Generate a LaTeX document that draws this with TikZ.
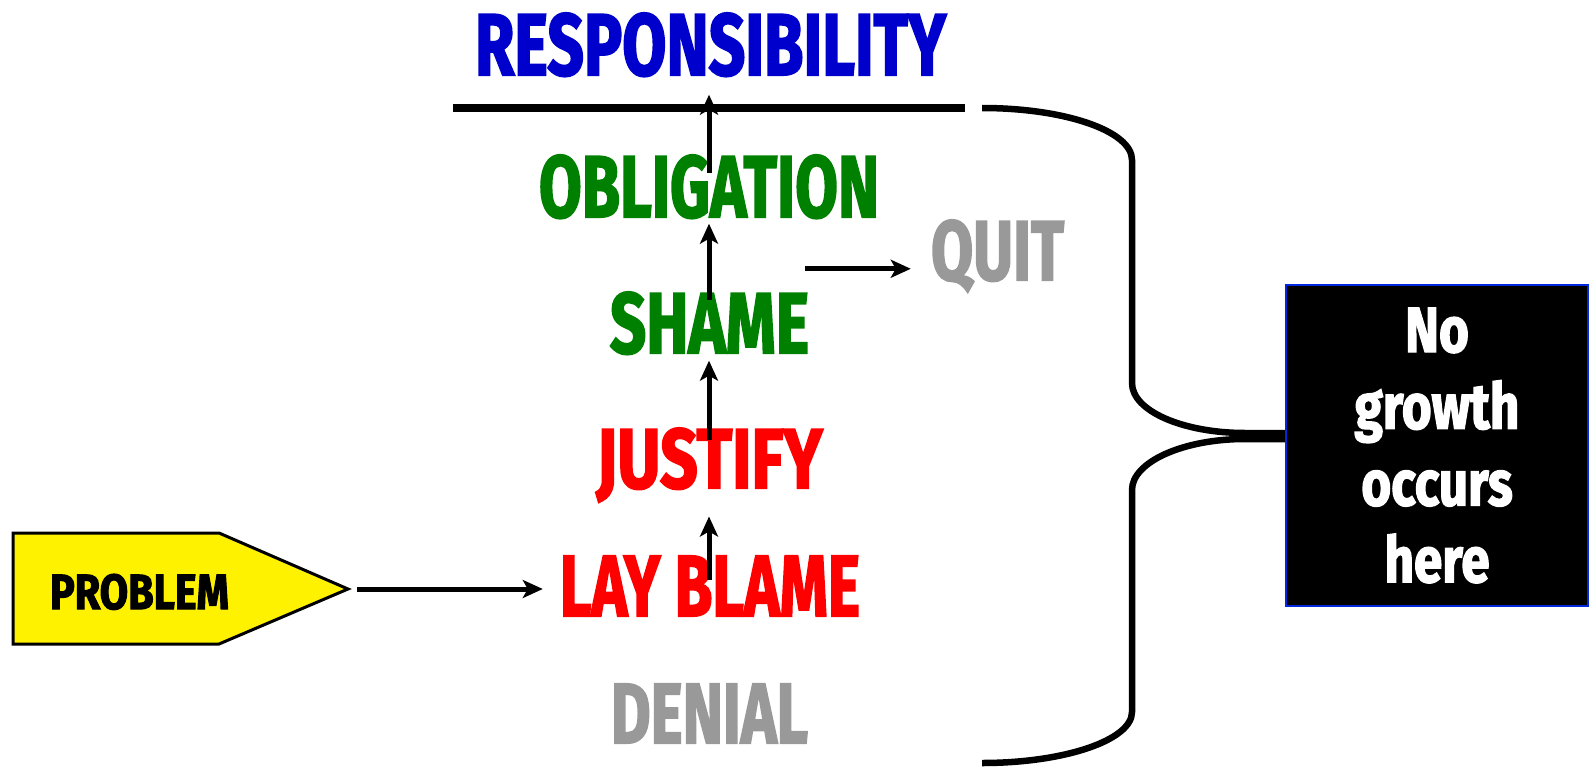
\documentclass[tikz,border=0pt]{standalone}
\usepackage{graphicx}
\usepackage{fontspec}
\setmainfont{Fira Sans}
\newfontfamily\heavyfont[FakeBold=2.5]{Fira Sans}
\newfontfamily\boxfont[FakeStretch=0.8,FakeBold=2]{Fira Sans}
\usetikzlibrary{arrows.meta,calc}
\definecolor{respblue}{RGB}{0,0,204}
\definecolor{okgreen}{RGB}{0,128,0}
\definecolor{badred}{RGB}{255,0,0}
\definecolor{midgray}{RGB}{153,153,153}
\definecolor{boxblue}{RGB}{0,40,220}
\newcommand\fitw[3]{\resizebox{#1pt}{#2pt}{\heavyfont\bfseries #3}}
\begin{document}
\begin{tikzpicture}[x=1pt,y=-1pt,
  word/.style={anchor=base,inner sep=0pt},
  arr/.style={line width=5pt,-{Stealth[length=20pt,width=18pt,inset=5pt]}},
  brk/.style={line width=6.5pt}]
\useasboundingbox (0,0) rectangle (1592,768);
% words
\node[word,text=respblue] (resp) at (710.5,75) {\fitw{471}{62}{RESPONSIBILITY}};
\node[word,text=okgreen] (obl) at (709,217) {\fitw{340}{62}{OBLIGATION}};
\node[word,text=okgreen] (sha) at (709.5,353) {\fitw{199}{61}{SHAME}};
\node[word,text=midgray] (quit) at (997.5,280) {\fitw{133}{60}{QUIT}};
\node[word,text=badred] (jus) at (709.5,488) {\fitw{226}{60}{JUSTIFY}};
\node[word,text=badred] (lay) at (710,616) {\fitw{300}{60}{LAY BLAME}};
\node[word,text=midgray] (den) at (709.5,743) {\fitw{197}{59}{DENIAL}};
% problem shape
\draw[line width=3pt,fill=yellow] (13,533) -- (219,533) -- (348,589) coordinate (ptip) -- (219,644) -- (13,644) -- cycle;
\node[word] (prob) at (139.5,609) {\fitw{179}{35}{PROBLEM}};
% top line
\draw[line width=8pt] (453,108) -- (965,108);
% box
\node[draw=boxblue,line width=2.5pt,fill=black,minimum width=302pt,minimum height=321pt,inner sep=0pt,
  text=white,align=center,font=\boxfont\bfseries\fontsize{64}{76.7}\selectfont] (growth) at (1437,445.5)
  {No\\growth\\occurs\\here};
% arrows
\draw[arr] ($(ptip)+(9,0)$) -- ($(ptip -| lay.west)+(-17,0)$);
\draw[arr] ($(lay.north)+(-1,24)$) -- ($(jus.south)+(-0.5,14)$);
\draw[arr] ($(jus.north)+(-0.5,12)$) -- ($(sha.south)+(-0.5,6)$);
\draw[arr] ($(sha.north)+(-0.5,8)$) -- ($(obl.south)+(0,5)$);
\draw[arr] ($(obl.north)+(0,18)$) -- ($(resp.south)+(-1.5,18)$);
\coordinate (qa) at ($(sha.north east)+(-4,-23)$);
\draw[arr] (qa) -- ($(qa -| quit.west)+(-20,0)$);
% bracket
\coordinate (bt) at (982,108);
\coordinate (bb) at (982,763);
\draw[brk] (bt) .. controls (1065,108) and (1132,131) .. (1132,160) -- (1132,383)
  .. controls (1132,411) and (1183,433) .. (1245,433) -- ($(growth.west)+(0,-12.5)$);
\draw[brk] ($(growth.west)+(0,-6.5)$) -- (1245,439) .. controls (1183,439) and (1132,462) .. (1132,490)
  -- (1132,712) .. controls (1132,740) and (1065,763) .. (bb);
\end{tikzpicture}
\end{document}
